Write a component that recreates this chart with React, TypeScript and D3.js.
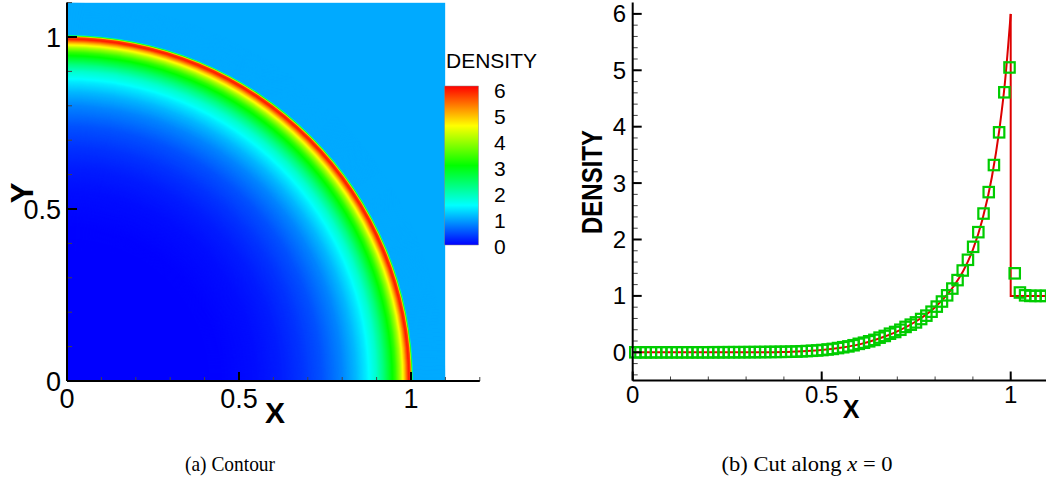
import React from "react";
import * as d3 from "d3";

// Numerical density in each cell of the cut along x = 0 (80 cells over [0, 1.1]).
const CELL_COUNT = 80;
const X_MAX = 1.1;
const cellDensity = [
  0.0, 0.0, 0.0, 0.0, 0.0, 0.0, 0.0, 0.0, 0.0, 0.0,
  0.0, 0.0, 0.0, 0.0, 0.0, 0.001, 0.001, 0.001, 0.002, 0.002,
  0.002, 0.003, 0.003, 0.004, 0.004, 0.005, 0.006, 0.007, 0.008, 0.009,
  0.011, 0.014, 0.018, 0.022, 0.027, 0.033, 0.04, 0.05, 0.06, 0.075,
  0.09, 0.105, 0.125, 0.15, 0.17, 0.195, 0.22, 0.26, 0.29, 0.33,
  0.36, 0.4, 0.45, 0.49, 0.53, 0.59, 0.65, 0.72, 0.81, 0.9,
  1.01, 1.13, 1.28, 1.45, 1.64, 1.87, 2.13, 2.46, 2.84, 3.32,
  3.9, 4.61, 5.05, 1.4, 1.06, 1.01, 1.0, 1.0, 1.0, 1.0,
];

// Radial density profile of the 2D contour field (radius -> density).
const contourRadius = [0, 0.2, 0.35, 0.45, 0.55, 0.62, 0.68, 0.74, 0.8, 0.84, 0.87, 0.9, 0.92, 0.94, 0.956, 0.969, 0.983, 0.994, 1.0, 1.007];
const contourDensity = [0, 0.001, 0.005, 0.02, 0.08, 0.17, 0.3, 0.48, 0.78, 1.08, 1.38, 1.8, 2.25, 2.8, 3.3, 3.95, 4.9, 5.85, 5.6, 1.0];

// Exact solution: smooth rise behind the shock, then the jump at x = 1.
const exactX = [0, 0.3, 0.35, 0.4, 0.45, 0.5, 0.55, 0.6, 0.65, 0.7, 0.75, 0.8, 0.85, 0.875, 0.9, 0.925, 0.95, 0.97, 0.985, 1.0];
const exactDensity = [0, 0, 0.002, 0.006, 0.02, 0.04, 0.08, 0.14, 0.24, 0.37, 0.55, 0.8, 1.18, 1.45, 1.82, 2.35, 3.1, 3.95, 4.8, 6.0];
const postShockX = [1.0, 1.0, 1.1];
const postShockDensity = [6.0, 1.0, 1.0];

// Axis ticks
const contourMajorTicks = [0, 0.5, 1];
const contourMinorTicks = [0, 0.1, 0.2, 0.3, 0.4, 0.5, 0.6, 0.7, 0.8, 0.9, 1.0, 1.1, 1.2];
const contourMinorTicksY = [0, 0.1, 0.2, 0.3, 0.4, 0.5, 0.6, 0.7, 0.8, 0.9, 1.0, 1.1];
const cutXMajorTicks = [0, 0.5, 1];
const cutXMinorTicks = [0, 0.1, 0.2, 0.3, 0.4, 0.5, 0.6, 0.7, 0.8, 0.9, 1.0, 1.1];
const cutYMajorTicks = [0, 1, 2, 3, 4, 5, 6];
const cutYMinorTicks = [-0.4, -0.2, 0, 0.2, 0.4, 0.6, 0.8, 1, 1.2, 1.4, 1.6, 1.8, 2, 2.2, 2.4, 2.6, 2.8, 3, 3.2, 3.4, 3.6, 3.8, 4, 4.2, 4.4, 4.6, 4.8, 5, 5.2, 5.4, 5.6, 5.8, 6];
const legendTicks = [0, 1, 2, 3, 4, 5, 6];

const rainbowStops = [0, 1.5, 3, 4.5, 6];
const rainbowColors = ["#0000ff", "#00ffff", "#00ff00", "#ffff00", "#ff0000"];

const SANS = "'Liberation Sans', Arial, Helvetica, sans-serif";
const SERIF = "'Liberation Serif', 'Times New Roman', serif";

export default function App() {
  const color = d3
    .scaleLinear<string>()
    .domain(rainbowStops)
    .range(rainbowColors)
    .interpolate(d3.interpolateRgb)
    .clamp(true);

  // ---------- Left: contour ----------
  const xL = d3.scaleLinear().domain([0, 1.2]).range([67, 479.8]);
  const yL = d3.scaleLinear().domain([0, 1.1]).range([381, 2.6]);
  const pxPerUnit = xL(1) - xL(0);

  const cellX = d3.range(CELL_COUNT).map((i) => ((i + 0.5) * X_MAX) / CELL_COUNT);
  const radial = d3.scaleLinear().domain(contourRadius).range(contourDensity).clamp(true);
  const densityAt = (r: number) => (r > contourRadius[contourRadius.length - 1] ? 1 : radial(r));

  const ringRadiiPx = d3.range(X_MAX * pxPerUnit, 0, -0.5);

  // ---------- Right: cut ----------
  const xR = d3.scaleLinear().domain([0, 1.1]).range([632.7, 632.7 + 1.1 * 378]);
  const yR = d3.scaleLinear().domain([-0.5, 6.2]).range([380.5, 2.6]);

  const smoothLine = d3
    .line<number>()
    .x((_, i) => xR(exactX[i]))
    .y((d) => yR(d))
    .curve(d3.curveMonotoneX);
  const jumpLine = d3
    .line<number>()
    .x((_, i) => xR(postShockX[i]))
    .y((d) => yR(d));

  // ---------- Colour legend ----------
  const legendY = d3.scaleLinear().domain([0, 6]).range([245, 86]);
  const legendLabelY = d3.scaleLinear().domain([0, 6]).range([246, 90]);

  return (
    <svg
      width={1046}
      height={484}
      style={{ position: "absolute", left: 0, top: 0, background: "#fff" }}
    >
      <defs>
        <clipPath id="contour-clip">
          <rect x={xL(0)} y={yL(X_MAX)} width={xL(X_MAX) - xL(0)} height={yL(0) - yL(X_MAX)} />
        </clipPath>
        <linearGradient id="legend-grad" x1="0" y1="1" x2="0" y2="0">
          {rainbowStops.map((s, i) => (
            <stop key={s} offset={s / 6} stopColor={rainbowColors[i]} />
          ))}
        </linearGradient>
      </defs>

      {/* Contour field */}
      <g clipPath="url(#contour-clip)">
        <rect
          x={xL(0)}
          y={yL(X_MAX)}
          width={xL(X_MAX) - xL(0)}
          height={yL(0) - yL(X_MAX)}
          fill={color(1)}
        />
        {ringRadiiPx.map((rp) => (
          <circle key={rp} cx={xL(0)} cy={yL(0)} r={rp} fill={color(densityAt(rp / pxPerUnit))} />
        ))}
      </g>

      {/* Contour axes */}
      <g stroke="#000">
        {contourMinorTicks.map((t) => (
          <line key={"lxm" + t} x1={xL(t)} x2={xL(t)} y1={yL(0)} y2={yL(0) - 4} strokeWidth={1} stroke="#444" />
        ))}
        {contourMinorTicksY.map((t) => (
          <line key={"lym" + t} x1={xL(0)} x2={xL(0) + 5} y1={yL(t)} y2={yL(t)} strokeWidth={1} stroke="#444" />
        ))}
        {contourMajorTicks.map((t) => (
          <line key={"lxM" + t} x1={xL(t)} x2={xL(t)} y1={yL(0)} y2={yL(0) - 9} strokeWidth={2} />
        ))}
        {contourMajorTicks.map((t) => (
          <line key={"lyM" + t} x1={xL(0)} x2={xL(0) + 10} y1={yL(t)} y2={yL(t)} strokeWidth={2} />
        ))}
        <line x1={xL(0)} x2={xL(1.2)} y1={yL(0)} y2={yL(0)} strokeWidth={2} />
        <line x1={xL(0)} x2={xL(0)} y1={yL(0)} y2={yL(X_MAX)} strokeWidth={2} />
      </g>
      <g fontFamily={SANS} fontSize={27} fill="#000">
        {contourMajorTicks.map((t) => (
          <text key={"lxl" + t} x={xL(t)} y={408} textAnchor="middle">
            {String(t)}
          </text>
        ))}
        {contourMajorTicks.map((t) => (
          <text key={"lyl" + t} x={61} y={yL(t) + 10} textAnchor="end">
            {String(t)}
          </text>
        ))}
      </g>
      <text x={275} y={423} textAnchor="middle" fontFamily={SANS} fontWeight="bold" fontSize={30}>
        X
      </text>
      <text
        transform="translate(33,193) rotate(-90)"
        textAnchor="middle"
        fontFamily={SANS}
        fontWeight="bold"
        fontSize={31}
      >
        Y
      </text>

      {/* Legend */}
      <text x={446} y={68} fontFamily={SANS} fontSize={21}>
        DENSITY
      </text>
      <rect
        x={444.5}
        y={legendY(6)}
        width={34}
        height={legendY(0) - legendY(6)}
        fill="url(#legend-grad)"
        stroke="#888"
        strokeWidth={0.5}
      />
      <g fontFamily={SANS} fontSize={21}>
        {legendTicks.map((t) => (
          <text key={"cb" + t} x={494} y={legendLabelY(t) + 7.5}>
            {String(t)}
          </text>
        ))}
      </g>

      {/* Cut along x = 0 */}
      <path d={smoothLine(exactDensity) || ""} fill="none" stroke="#dd0000" strokeWidth={2} />
      <path d={jumpLine(postShockDensity) || ""} fill="none" stroke="#dd0000" strokeWidth={2} />
      <g fill="none" stroke="#00cc00" strokeWidth={2.2}>
        {cellDensity.map((v, i) => (
          <rect key={"m" + i} x={xR(cellX[i]) - 5.2} y={yR(v) - 5.2} width={10.4} height={10.4} />
        ))}
      </g>

      <g stroke="#000">
        {cutXMinorTicks.map((t) => (
          <line key={"rxm" + t} x1={xR(t)} x2={xR(t)} y1={yR(-0.5)} y2={yR(-0.5) - 4} strokeWidth={1} stroke="#444" />
        ))}
        {cutYMinorTicks.map((t) => (
          <line key={"rym" + t} x1={xR(0)} x2={xR(0) + 5} y1={yR(t)} y2={yR(t)} strokeWidth={1} stroke="#444" />
        ))}
        {cutXMajorTicks.map((t) => (
          <line key={"rxM" + t} x1={xR(t)} x2={xR(t)} y1={yR(-0.5)} y2={yR(-0.5) - 9} strokeWidth={2} />
        ))}
        {cutYMajorTicks.map((t) => (
          <line key={"ryM" + t} x1={xR(0)} x2={xR(0) + 9} y1={yR(t)} y2={yR(t)} strokeWidth={2} />
        ))}
        <line x1={xR(0)} x2={xR(1.1)} y1={yR(-0.5)} y2={yR(-0.5)} strokeWidth={2} />
        <line x1={xR(0)} x2={xR(0)} y1={yR(-0.5)} y2={yR(6.2)} strokeWidth={2} />
      </g>
      <g fontFamily={SANS} fontSize={24} fill="#000">
        {cutXMajorTicks.map((t) => (
          <text key={"rxl" + t} x={xR(t)} y={403} textAnchor="middle">
            {String(t)}
          </text>
        ))}
        {cutYMajorTicks.map((t) => (
          <text key={"ryl" + t} x={626} y={yR(t) + 8.5} textAnchor="end">
            {String(t)}
          </text>
        ))}
      </g>
      <text x={851} y={418} textAnchor="middle" fontFamily={SANS} fontWeight="bold" fontSize={25}>
        X
      </text>
      <text
        transform="translate(602,182) rotate(-90)"
        textAnchor="middle"
        fontFamily={SANS}
        fontWeight="bold"
        fontSize={29}
        textLength={104}
        lengthAdjust="spacingAndGlyphs"
      >
        DENSITY
      </text>

      {/* Captions */}
      <text x={230} y={471} textAnchor="middle" fontFamily={SERIF} fontSize={22} textLength={90} lengthAdjust="spacingAndGlyphs">
        (a) Contour
      </text>
      <text x={807} y={471} textAnchor="middle" fontFamily={SERIF} fontSize={22} textLength={171} lengthAdjust="spacingAndGlyphs">
        (b) Cut along <tspan fontStyle="italic">x</tspan> = 0
      </text>
    </svg>
  );
}
